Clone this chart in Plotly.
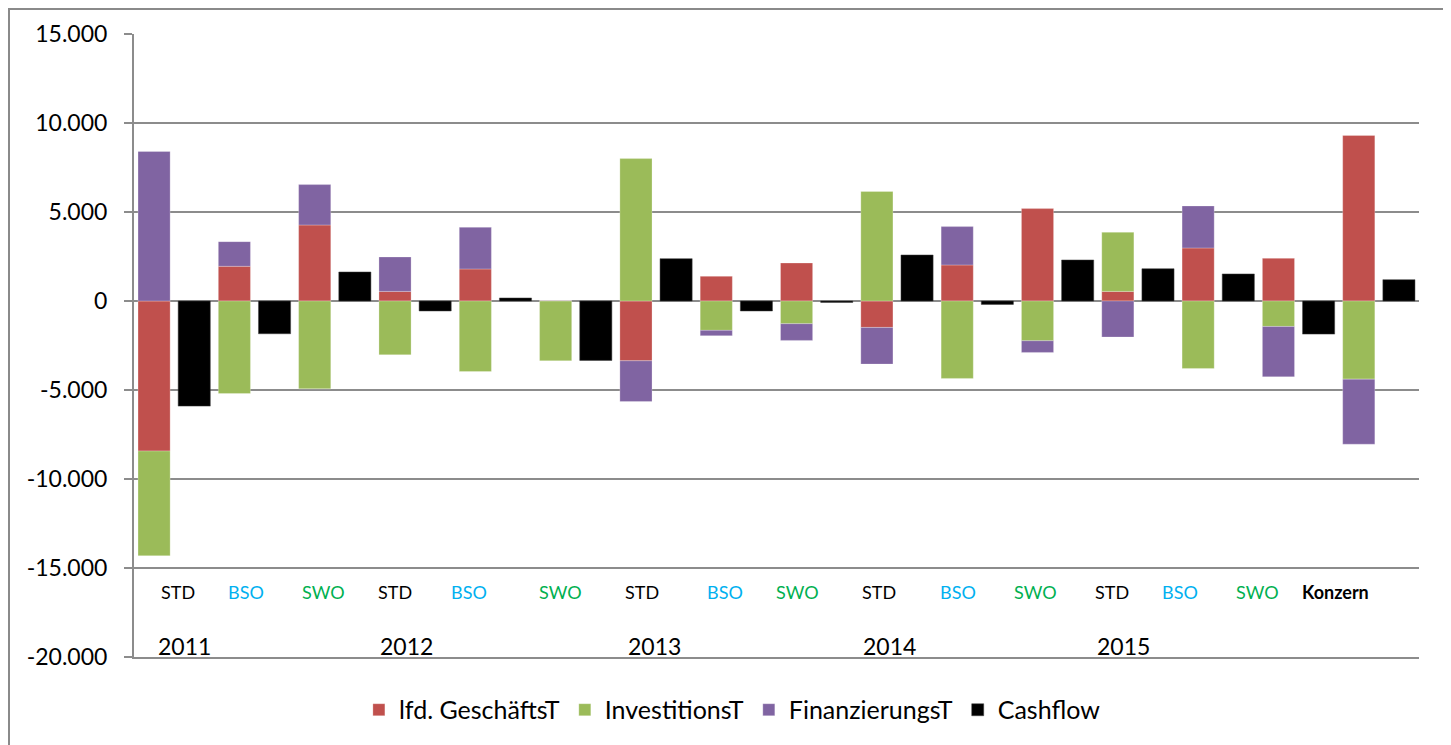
import plotly.graph_objects as go

# Kategorien: je Jahr STD / BSO / SWO, dann Konzern
einheiten = ["STD", "BSO", "SWO"] * 5 + ["Konzern"]
jahre = ["2011", "2012", "2013", "2014", "2015"]

lfd_geschaeft = [-8430, 1950, 4270, 540, 1800, 20, -3360, 1385, 2135,
                 -1485, 2025, 5190, 540, 2980, 2395, 9300]
investition = [-5880, -5200, -4935, -3020, -3960, -3360, 8000, -1650, -1275,
               6150, -4350, -2235, 3320, -3790, -1430, -4390]
finanzierung = [8400, 1385, 2270, 1935, 2340, 0, -2285, -300, -940,
                -2060, 2155, -655, -2025, 2360, -2830, -3655]
cashflow = [-5905, -1840, 1630, -560, 170, -3340, 2380, -560, -80,
            2585, -190, 2305, 1815, 1520, -1860, 1200]

y_ticks = [15000, 10000, 5000, 0, -5000, -10000, -15000, -20000]
y_ticktext = ["15.000", "10.000", "5.000", "0", "-5.000", "-10.000", "-15.000", "-20.000"]

# Lage der Beschriftungen (Achseneinheiten), wie im Original von Hand gesetzt
einheit_x = [0.59, 2.29, 4.23, 6.01, 7.84, 10.13, 12.14, 14.22, 16.03,
             18.05, 20.01, 21.94, 23.86, 25.55, 27.49, 29.41]
jahr_x = [0.75, 6.29, 12.46, 18.31, 24.15]
farbe_einheit = {"STD": "black", "BSO": "#00B0F0", "SWO": "#00B050", "Konzern": "black"}

FONT = "Lato"
# Seite hat 8px body-Rand -> Figur etwas kleiner, Ränder entsprechend
W, H = 1443, 737
ML, MR, MT, MB = 126, 32, 26, 88
GRID = "#8c8c8c"

n = len(einheiten)
x_stack = [2 * i for i in range(n)]
x_cf = [2 * i + 1 for i in range(n)]

fig = go.Figure()
for name, werte, farbe in [("lfd. GeschäftsT", lfd_geschaeft, "#C0504D"),
                           ("InvestitionsT", investition, "#9BBB59"),
                           ("FinanzierungsT", finanzierung, "#8064A2")]:
    fig.add_trace(go.Bar(x=x_stack, y=werte, name=name, width=0.8,
                         marker=dict(color=farbe, line=dict(color="rgba(255,255,255,0.5)", width=0.5))))
fig.add_trace(go.Bar(x=x_cf, y=cashflow, name="Cashflow", width=0.8,
                     marker=dict(color="#000000", line=dict(color="#404040", width=0.5))))

plot_w = W - ML - MR
plot_h = H - MT - MB

for lab, xp in zip(einheiten, einheit_x):
    fig.add_annotation(x=xp, y=0.104, xref="x", yref="paper", showarrow=False,
                       xanchor="center", yanchor="middle",
                       text=f"<b>{lab}</b>" if lab == "Konzern" else lab,
                       font=dict(family=FONT, size=18, color=farbe_einheit[lab]))
for lab, xp in zip(jahre, jahr_x):
    fig.add_annotation(x=xp, y=0.017, xref="x", yref="paper", showarrow=False,
                       xanchor="center", yanchor="middle",
                       text=lab, font=dict(family=FONT, size=23, color="black"))

# Rahmen um das ganze Diagramm
fig.add_shape(type="rect", xref="paper", yref="paper", layer="below",
              x0=(1 - ML) / plot_w, x1=(1439 - ML) / plot_w,
              y0=(plot_h + MT - 760) / plot_h, y1=(plot_h + MT - 1) / plot_h,
              line=dict(color="#8a8a8a", width=2))

fig.update_xaxes(range=[-0.5, 31.5], showticklabels=False, showgrid=False, zeroline=False,
                 showline=True, linecolor=GRID, linewidth=2, ticks="")
fig.update_yaxes(range=[-20000, 15000], tickvals=y_ticks, ticktext=y_ticktext,
                 showgrid=True, gridcolor=GRID, gridwidth=2,
                 zeroline=True, zerolinecolor=GRID, zerolinewidth=2,
                 showline=True, linecolor=GRID, linewidth=2,
                 ticks="outside", ticklen=8, tickcolor=GRID, tickwidth=2,
                 ticklabelstandoff=12,
                 tickfont=dict(family=FONT, size=23, color="black"))
fig.update_layout(
    width=W, height=H,
    margin=dict(l=ML, r=MR, t=MT, b=MB),
    barmode="relative",
    plot_bgcolor="white", paper_bgcolor="white",
    font=dict(family=FONT, color="black"),
    showlegend=True,
    legend=dict(orientation="h", xref="container", yref="container",
                x=0.502, y=0.0475, xanchor="center", yanchor="middle",
                font=dict(family=FONT, size=25, color="black"),
                itemwidth=30, traceorder="normal"),
)

fig.write_html("out.html")
